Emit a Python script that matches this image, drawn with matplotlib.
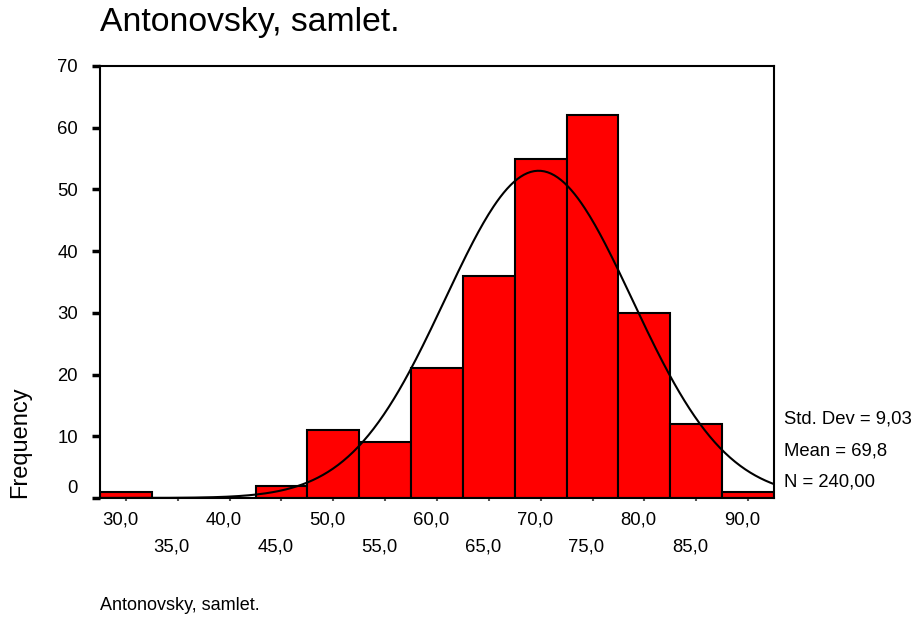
import numpy as np
import matplotlib
matplotlib.use("Agg")
import matplotlib.pyplot as plt
from matplotlib.transforms import ScaledTranslation

plt.rcParams["font.family"] = ["Liberation Sans", "DejaVu Sans"]

# bin centres and counts
bin_centers = [30, 35, 40, 45, 50, 55, 60, 65, 70, 75, 80, 85, 90]
counts = [1, 0, 0, 2, 11, 9, 21, 36, 55, 62, 30, 12, 1]
bin_width = 5
mean, std_dev, n = 69.8, 9.03, 240
row1_ticks = [30, 40, 50, 60, 70, 80, 90]
row2_ticks = [35, 45, 55, 65, 75, 85]
y_ticks = [0, 10, 20, 30, 40, 50, 60, 70]
title = "Antonovsky, samlet."


def fmt(v):
    return f"{v:.1f}".replace(".", ",")


def main():
    fig = plt.figure(figsize=(9.14, 6.19), dpi=100)
    ax = fig.add_axes([0.1094, 0.1955, 0.7374, 0.698])

    ax.bar(bin_centers, counts, width=bin_width, color="#ff0000",
           edgecolor="black", linewidth=1.5, zorder=2)

    # normal curve scaled to counts
    xs = np.linspace(27.5, 92.5, 400)
    ys = n * bin_width / (std_dev * np.sqrt(2 * np.pi)) * np.exp(-0.5 * ((xs - mean) / std_dev) ** 2)
    ax.plot(xs, ys, color="black", linewidth=1.5, zorder=3)

    ax.set_xlim(27.5, 92.5)
    ax.set_ylim(0, 70)

    for s in ax.spines.values():
        s.set_linewidth(1.5)

    ax.set_yticks(y_ticks)
    ax.set_yticklabels([str(v) for v in y_ticks])
    ax.tick_params(axis="y", direction="out", length=6, width=2.5,
                   labelsize=13.3, pad=10)
    lab0 = ax.get_yticklabels()[0]
    lab0.set_transform(lab0.get_transform() + ScaledTranslation(0, 8 / 72, fig.dpi_scale_trans))

    ax.set_xticks(row1_ticks)
    ax.set_xticklabels([fmt(v) for v in row1_ticks])
    ax.set_xticks(row2_ticks, minor=True)
    ax.set_xticklabels([fmt(v) for v in row2_ticks], minor=True)
    ax.tick_params(axis="x", which="major", direction="out", length=2, width=1.5,
                   color="#555555", labelsize=13.3, pad=8)
    ax.tick_params(axis="x", which="minor", direction="out", length=2, width=1.5,
                   color="#555555", labelsize=13.3, pad=27)
    shift = ScaledTranslation(-6 / 100, 0, fig.dpi_scale_trans)
    for lab in ax.get_xticklabels() + ax.get_xticklabels(minor=True):
        lab.set_transform(lab.get_transform() + shift)

    fig.text(100 / 914, 1 - 22 / 619, title, fontsize=24.3, va="center", ha="left")
    fig.text(100 / 914, 1 - 605 / 619, title, fontsize=13, va="center", ha="left")
    fig.text(20 / 914, 1 - 442 / 619, "Frequency", fontsize=17, rotation=90,
             va="center", ha="center")

    stats = ["Std. Dev = " + f"{std_dev:.2f}".replace(".", ","),
             "Mean = " + f"{mean:.1f}".replace(".", ","),
             "N = " + f"{n:.2f}".replace(".", ",")]
    for i, s in enumerate(stats):
        fig.text(784 / 914, 1 - (419 + 31.5 * i) / 619, s,
                 fontsize=13.3, va="center", ha="left")

    fig.savefig("out.png", dpi=100)


if __name__ == "__main__":
    main()
